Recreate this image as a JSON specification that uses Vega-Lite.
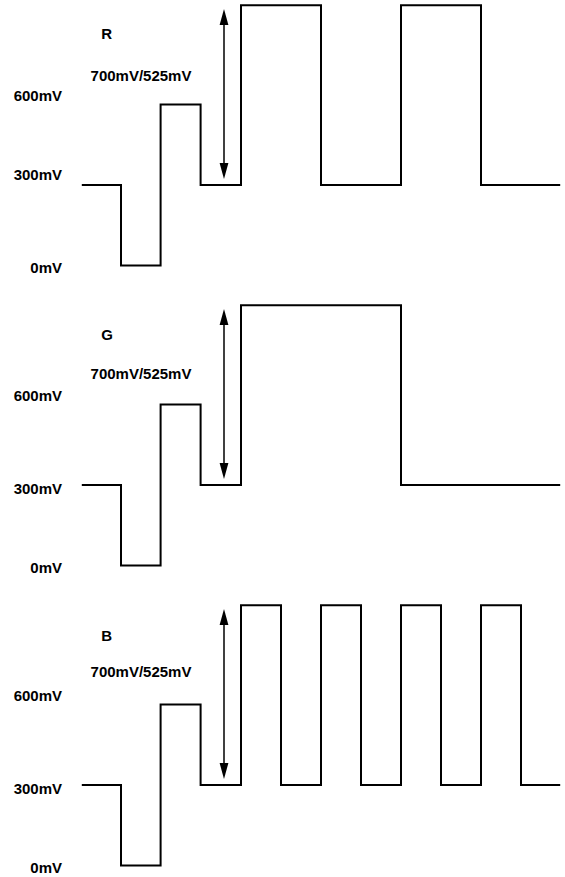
{
  "$schema": "https://vega.github.io/schema/vega-lite/v6.json",
  "padding": 0,
  "background": "white",
  "config": {"view": {"stroke": null}},
  "data": {"values": [
    {"panel":"R","part":"wave","t":0.02,"v":300},
    {"panel":"R","part":"wave","t":1,"v":0},
    {"panel":"R","part":"wave","t":1.99,"v":600},
    {"panel":"R","part":"wave","t":2.99,"v":300},
    {"panel":"R","part":"wave","t":4,"v":970},
    {"panel":"R","part":"wave","t":6,"v":300},
    {"panel":"R","part":"wave","t":8,"v":970},
    {"panel":"R","part":"wave","t":10,"v":300},
    {"panel":"R","part":"wave","t":11.98,"v":300},
    {"panel":"G","part":"wave","t":0.02,"v":300},
    {"panel":"G","part":"wave","t":1,"v":0},
    {"panel":"G","part":"wave","t":1.99,"v":600},
    {"panel":"G","part":"wave","t":2.99,"v":300},
    {"panel":"G","part":"wave","t":4,"v":970},
    {"panel":"G","part":"wave","t":8,"v":300},
    {"panel":"G","part":"wave","t":11.98,"v":300},
    {"panel":"B","part":"wave","t":0.02,"v":300},
    {"panel":"B","part":"wave","t":1,"v":0},
    {"panel":"B","part":"wave","t":1.99,"v":600},
    {"panel":"B","part":"wave","t":2.99,"v":300},
    {"panel":"B","part":"wave","t":4,"v":970},
    {"panel":"B","part":"wave","t":5,"v":300},
    {"panel":"B","part":"wave","t":6,"v":970},
    {"panel":"B","part":"wave","t":7,"v":300},
    {"panel":"B","part":"wave","t":8,"v":970},
    {"panel":"B","part":"wave","t":9,"v":300},
    {"panel":"B","part":"wave","t":10,"v":970},
    {"panel":"B","part":"wave","t":11,"v":300},
    {"panel":"B","part":"wave","t":11.98,"v":300},
    {"panel":"R","part":"name","t":0.64,"v":844,"label":"R"},
    {"panel":"G","part":"name","t":0.65,"v":840,"label":"G"},
    {"panel":"B","part":"name","t":0.64,"v":837,"label":"B"},
    {"panel":"R","part":"amp","t":1.5,"v":688,"label":"700mV/525mV"},
    {"panel":"G","part":"amp","t":1.5,"v":695,"label":"700mV/525mV"},
    {"panel":"B","part":"amp","t":1.5,"v":703,"label":"700mV/525mV"},
    {"panel":"R","part":"tick","t":-0.475,"v":613,"label":"600mV"},
    {"panel":"R","part":"tick","t":-0.475,"v":319,"label":"300mV"},
    {"panel":"R","part":"tick","t":-0.475,"v":-28,"label":"0mV"},
    {"panel":"G","part":"tick","t":-0.475,"v":613,"label":"600mV"},
    {"panel":"G","part":"tick","t":-0.475,"v":267,"label":"300mV"},
    {"panel":"G","part":"tick","t":-0.475,"v":-28,"label":"0mV"},
    {"panel":"B","part":"tick","t":-0.475,"v":613,"label":"600mV"},
    {"panel":"B","part":"tick","t":-0.475,"v":267,"label":"300mV"},
    {"panel":"B","part":"tick","t":-0.475,"v":-28,"label":"0mV"},
    {"panel":"R","part":"arrow","t":3.575,"v":345,"v2":935},
    {"panel":"G","part":"arrow","t":3.575,"v":345,"v2":935},
    {"panel":"B","part":"arrow","t":3.575,"v":345,"v2":935},
    {"panel":"R","part":"up","t":3.575,"v":926},
    {"panel":"G","part":"up","t":3.575,"v":926},
    {"panel":"B","part":"up","t":3.575,"v":926},
    {"panel":"R","part":"down","t":3.575,"v":352},
    {"panel":"G","part":"down","t":3.575,"v":352},
    {"panel":"B","part":"down","t":3.575,"v":352}
  ]},
  "facet": {"row": {"field": "panel", "type": "nominal", "sort": ["R","G","B"], "header": null}},
  "spacing": {"row": 23},
  "spec": {
    "width": 565,
    "height": 277,
    "encoding": {
      "x": {"field": "t", "type": "quantitative", "axis": null, "scale": {"domain": [-2.025, 12.1], "nice": false, "zero": false}},
      "y": {"field": "v", "type": "quantitative", "axis": null, "scale": {"domain": [-42.9, 989.6], "nice": false, "zero": false}}
    },
    "layer": [
      {
        "transform": [{"filter": "datum.part === 'wave'"}],
        "mark": {"type": "line", "interpolate": "step-after", "color": "black", "strokeWidth": 2, "strokeJoin": "miter", "clip": false}
      },
      {
        "transform": [{"filter": "datum.part === 'arrow'"}],
        "mark": {"type": "rule", "color": "black", "strokeWidth": 1.5},
        "encoding": {"y2": {"field": "v2"}}
      },
      {
        "transform": [{"filter": "datum.part === 'up'"}],
        "mark": {"type": "point", "filled": true, "color": "black", "opacity": 1, "size": 256, "shape": "M0,-1L0.55,1L-0.55,1Z", "strokeWidth": 0}
      },
      {
        "transform": [{"filter": "datum.part === 'down'"}],
        "mark": {"type": "point", "filled": true, "color": "black", "opacity": 1, "size": 256, "shape": "M0,1L0.55,-1L-0.55,-1Z", "strokeWidth": 0}
      },
      {
        "transform": [{"filter": "datum.part === 'name' || datum.part === 'amp'"}],
        "mark": {"type": "text", "align": "center", "baseline": "alphabetic", "font": "Liberation Sans", "fontSize": 15, "fontWeight": "bold", "color": "black"},
        "encoding": {"text": {"field": "label"}}
      },
      {
        "transform": [{"filter": "datum.part === 'tick'"}],
        "mark": {"type": "text", "align": "right", "baseline": "alphabetic", "font": "Liberation Sans", "fontSize": 15, "fontWeight": "bold", "color": "black"},
        "encoding": {"text": {"field": "label"}}
      }
    ]
  }
}
